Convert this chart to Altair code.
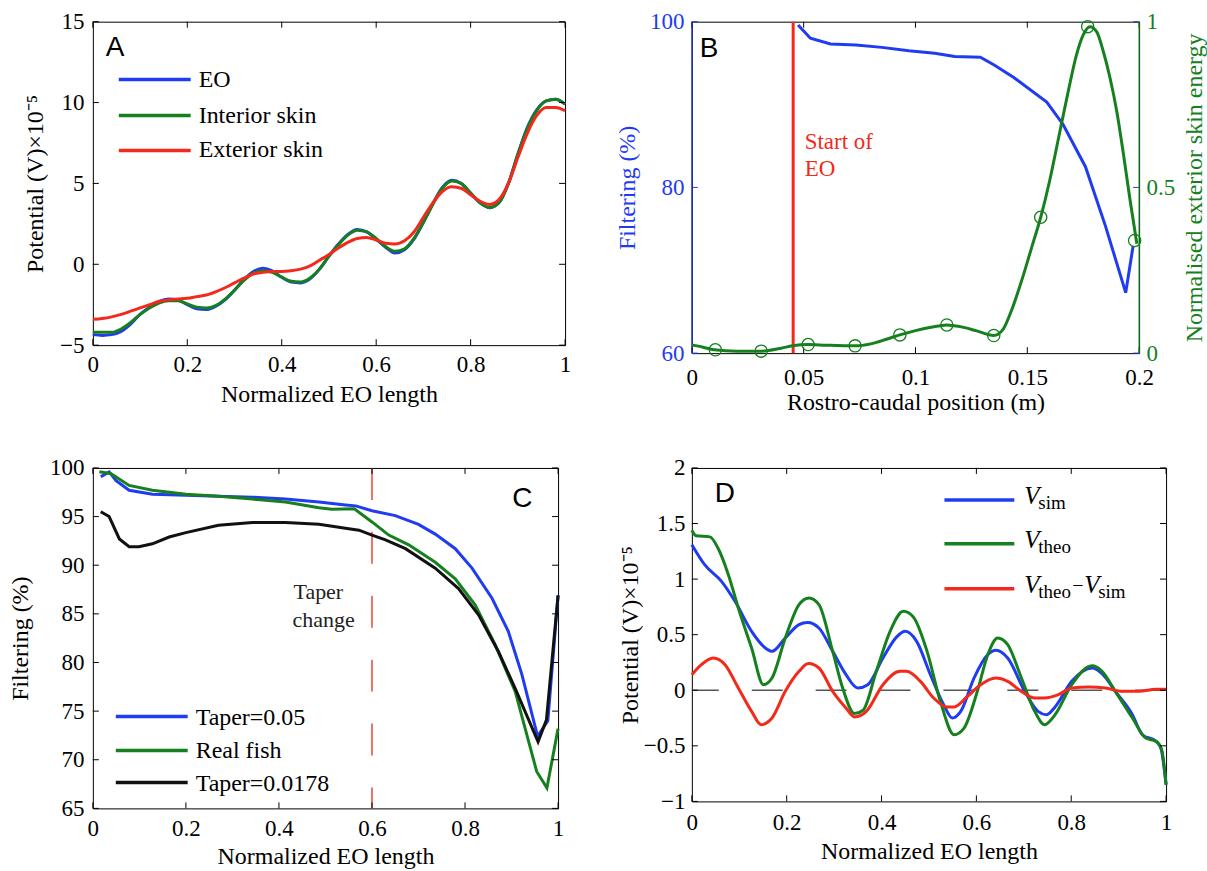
import altair as alt
import pandas as pd

SERIF = "Liberation Serif"
SANS = "Liberation Sans"
BLUE = "#1f3cf0"
GREEN = "#16801e"
RED = "#f2291b"
BLACK = "#111111"

# ---------------- Panel A data ----------------
a_x = [0.00, 0.02, 0.04, 0.06, 0.08, 0.10, 0.12, 0.14, 0.16, 0.18, 0.20, 0.22, 0.24, 0.26,
       0.28, 0.30, 0.32, 0.34, 0.36, 0.38, 0.40, 0.42, 0.44, 0.46, 0.48, 0.50, 0.52, 0.54,
       0.56, 0.58, 0.60, 0.62, 0.64, 0.66, 0.68, 0.70, 0.72, 0.74, 0.76, 0.78, 0.80, 0.82,
       0.84, 0.86, 0.88, 0.90, 0.92, 0.94, 0.96, 0.98, 1.00]
a_eo = [-4.35, -4.4, -4.35, -4.15, -3.7, -3.1, -2.65, -2.3, -2.15, -2.2, -2.5, -2.75, -2.8, -2.6,
        -2.2, -1.6, -0.95, -0.45, -0.25, -0.4, -0.8, -1.1, -1.15, -0.9, -0.3, 0.5, 1.25, 1.85,
        2.15, 2.0, 1.55, 1.05, 0.7, 0.9, 1.55, 2.6, 3.75, 4.75, 5.2, 5.0, 4.4, 3.8, 3.5,
        3.8, 5.0, 6.8, 8.45, 9.55, 10.1, 10.2, 9.9]
a_interior = [-4.2, -4.2, -4.2, -4.0, -3.6, -3.1, -2.7, -2.4, -2.25, -2.25, -2.45, -2.65, -2.7, -2.55,
              -2.15, -1.6, -1.0, -0.55, -0.4, -0.5, -0.8, -1.05, -1.1, -0.85, -0.3, 0.5, 1.2, 1.8,
              2.1, 2.0, 1.6, 1.1, 0.8, 0.95, 1.6, 2.6, 3.7, 4.7, 5.15, 5.0, 4.4, 3.8, 3.5,
              3.8, 5.0, 6.8, 8.4, 9.5, 10.1, 10.2, 9.9]
a_exterior = [-3.4, -3.35, -3.25, -3.1, -2.9, -2.7, -2.5, -2.3, -2.2, -2.15, -2.1, -2.0, -1.9, -1.7,
              -1.45, -1.15, -0.85, -0.6, -0.5, -0.45, -0.45, -0.4, -0.3, -0.1, 0.25, 0.6, 1.0, 1.35,
              1.6, 1.65, 1.5, 1.3, 1.25, 1.45, 2.0, 2.9, 3.8, 4.5, 4.8, 4.7, 4.3, 3.9, 3.7,
              4.0, 5.0, 6.6, 8.1, 9.2, 9.7, 9.7, 9.5]
a_names = ["EO", "Interior skin", "Exterior skin"]
a_xticks = [0, 0.2, 0.4, 0.6, 0.8, 1]
a_yticks = [-5, 0, 5, 10, 15]

# ---------------- Panel B data ----------------
b_filt_x = [0.0475, 0.053, 0.062, 0.0734, 0.085, 0.097, 0.1086, 0.1175, 0.129, 0.135, 0.1438,
            0.1587, 0.166, 0.176, 0.185, 0.194, 0.1973]
b_filt_y = [99.6, 98.0, 97.3, 97.2, 96.9, 96.5, 96.2, 95.8, 95.7, 94.8, 93.3,
            90.3, 87.6, 82.5, 75.3, 67.3, 72.9]
b_energy_x = [0.000, 0.005, 0.010, 0.020, 0.031, 0.040, 0.045, 0.052, 0.060, 0.073, 0.080, 0.087,
              0.093, 0.100, 0.107, 0.114, 0.120, 0.127, 0.135, 0.139, 0.143, 0.148, 0.152, 0.156,
              0.160, 0.164, 0.168, 0.172, 0.175, 0.178, 0.181, 0.184, 0.187, 0.190, 0.193, 0.196,
              0.199]
b_energy_y = [0.025, 0.018, 0.010, 0.006, 0.006, 0.015, 0.022, 0.026, 0.024, 0.022, 0.028, 0.042,
              0.055, 0.068, 0.078, 0.085, 0.080, 0.068, 0.053, 0.07, 0.13, 0.23, 0.32, 0.41,
              0.52, 0.65, 0.78, 0.90, 0.96, 0.985, 0.97, 0.91, 0.83, 0.73, 0.60, 0.46,
              0.33]
b_circle_x = [0.0105, 0.031, 0.052, 0.073, 0.093, 0.114, 0.135, 0.156, 0.177, 0.198]
b_circle_y = [0.01, 0.006, 0.026, 0.022, 0.055, 0.085, 0.053, 0.41, 0.985, 0.34]
b_eo_start = [0.0453]
b_xticks = [0, 0.05, 0.1, 0.15, 0.2]
b_left_ticks = [60, 80, 100]
b_right_ticks = [0, 0.5, 1]

# ---------------- Panel C data ----------------
c_t05_x = [0.017, 0.035, 0.05, 0.078, 0.128, 0.2, 0.27, 0.343, 0.414, 0.486, 0.543, 0.565, 0.6,
           0.65, 0.7, 0.736, 0.779, 0.815, 0.858, 0.893, 0.922, 0.956, 0.978, 1.0]
c_t05_y = [99.1, 99.6, 98.7, 97.7, 97.3, 97.2, 97.1, 97.0, 96.8, 96.5, 96.2, 96.1, 95.6,
           95.1, 94.2, 93.2, 91.7, 89.7, 86.6, 83.2, 78.8, 72.4, 74.0, 86.9]
c_real_x = [0.014, 0.039, 0.078, 0.128, 0.2, 0.27, 0.343, 0.414, 0.486, 0.514, 0.562, 0.6, 0.636,
            0.679, 0.736, 0.779, 0.822, 0.865, 0.908, 0.954, 0.976, 1.0]
c_real_y = [99.6, 99.4, 98.2, 97.7, 97.3, 97.1, 96.8, 96.5, 95.9, 95.75, 95.8, 94.45, 93.1,
            92.1, 90.3, 88.6, 85.9, 81.8, 77.0, 68.8, 67.1, 73.2]
c_t0178_x = [0.017, 0.035, 0.057, 0.078, 0.099, 0.128, 0.164, 0.2, 0.27, 0.343, 0.414, 0.486,
             0.543, 0.572, 0.6, 0.629, 0.672, 0.736, 0.786, 0.829, 0.872, 0.908, 0.957, 0.975, 1.0]
c_t0178_y = [95.5, 95.0, 92.7, 91.9, 91.9, 92.2, 92.9, 93.35, 94.1, 94.4, 94.4, 94.2,
             93.8, 93.6, 93.1, 92.6, 91.7, 89.7, 87.6, 84.9, 81.1, 77.3, 71.85, 74.1, 86.9]
c_names = ["Taper=0.05", "Real fish", "Taper=0.0178"]
c_taper_change = [0.6]
c_xticks = [0, 0.2, 0.4, 0.6, 0.8, 1]
c_yticks = [65, 70, 75, 80, 85, 90, 95, 100]

# ---------------- Panel D data ----------------
d_sim_x = [0, 0.027, 0.0625, 0.091, 0.126, 0.155, 0.169, 0.197, 0.226, 0.244, 0.268, 0.297,
           0.325, 0.35, 0.371, 0.403, 0.432, 0.45, 0.474, 0.503, 0.531, 0.549, 0.567, 0.595,
           0.624, 0.641, 0.666, 0.702, 0.73, 0.748, 0.766, 0.801, 0.844, 0.865, 0.893, 0.929,
           0.95, 0.979, 0.989, 1.0]
d_sim_y = [1.31, 1.13, 0.98, 0.80, 0.53, 0.38, 0.35, 0.47, 0.59, 0.61, 0.56, 0.35,
           0.14, 0.02, 0.05, 0.29, 0.48, 0.53, 0.44, 0.14, -0.13, -0.25, -0.19, 0.11,
           0.32, 0.36, 0.29, -0.01, -0.19, -0.22, -0.15, 0.08, 0.20, 0.15, -0.01, -0.22,
           -0.40, -0.46, -0.52, -0.85]
d_theo_x = [0, 0.009, 0.038, 0.055, 0.077, 0.098, 0.126, 0.151, 0.169, 0.197, 0.226, 0.247,
            0.268, 0.297, 0.318, 0.343, 0.361, 0.389, 0.418, 0.446, 0.467, 0.496, 0.524, 0.553,
            0.574, 0.602, 0.624, 0.645, 0.666, 0.695, 0.723, 0.744, 0.766, 0.801, 0.844, 0.865,
            0.893, 0.929, 0.957, 0.979, 0.991, 1.0]
d_theo_y = [1.44, 1.39, 1.38, 1.28, 1.04, 0.74, 0.38, 0.05, 0.11, 0.47, 0.77, 0.83,
            0.77, 0.35, 0.02, -0.21, -0.18, 0.17, 0.53, 0.71, 0.66, 0.35, -0.10, -0.40,
            -0.34, -0.01, 0.32, 0.47, 0.41, 0.11, -0.19, -0.31, -0.22, 0.05, 0.22, 0.17,
            -0.01, -0.25, -0.43, -0.46, -0.54, -0.85]
d_diff_x = [0, 0.02, 0.045, 0.07, 0.098, 0.126, 0.146, 0.169, 0.197, 0.226, 0.246, 0.268,
            0.297, 0.325, 0.343, 0.368, 0.403, 0.439, 0.453, 0.482, 0.51, 0.538, 0.553, 0.58,
            0.609, 0.641, 0.666, 0.695, 0.723, 0.744, 0.773, 0.801, 0.837, 0.872, 0.908, 0.943,
            0.979, 1.0]
d_diff_y = [0.14, 0.23, 0.29, 0.23, 0.02, -0.19, -0.31, -0.25, -0.01, 0.17, 0.24, 0.20,
            -0.01, -0.16, -0.24, -0.19, 0.05, 0.17, 0.17, 0.08, -0.07, -0.15, -0.15, -0.06,
            0.05, 0.11, 0.08, -0.01, -0.07, -0.07, -0.04, 0.02, 0.03, 0.02, -0.01, -0.01,
            0.01, 0.01]
d_zero = [0]
d_xticks = [0, 0.2, 0.4, 0.6, 0.8, 1]
d_yticks = [-1, -0.5, 0, 0.5, 1, 1.5, 2]

panel_letters = ["A", "B", "C", "D"]
x_title_eo = "Normalized EO length"
y_title_pot = "Potential (V)\u00d710\u207b\u2075"
y_title_filt = "Filtering (%)"

LABEL_EXPR = "replace(toString(datum.value), '-', '\u2212')"


# ---------------- helpers ----------------
def sc(dom):
    return alt.Scale(domain=dom, nice=False, zero=False)


def axis(vals, title, orient, tx, ty, lp=8, color="black", angle=0, tbase="alphabetic"):
    return alt.Axis(values=vals, labelExpr=LABEL_EXPR, title=title, orient=orient, ticks=False,
                    domain=False, grid=False, labelFont=SERIF, labelFontSize=23, labelColor=color,
                    labelPadding=lp, titleFont=SERIF, titleFontSize=24, titleFontWeight="normal",
                    titleColor=color, titleX=tx, titleY=ty, titleAngle=angle,
                    titleBaseline=tbase, titleAlign="center",
                    labelFlush=False, labelOverlap=False)


def line(xs, ys, color, xdom, ydom, xaxis, yaxis, width=3, interp="monotone"):
    df = pd.DataFrame({"x": xs, "y": ys})
    return alt.Chart(df).mark_line(color=color, strokeWidth=width, interpolate=interp).encode(
        x=alt.X("x:Q", scale=sc(xdom), axis=xaxis),
        y=alt.Y("y:Q", scale=sc(ydom), axis=yaxis),
    )


def frame_ticks(xvals, yvals, xdom, ydom, xaxis, yaxis, w, h, L=6, lcol="black", rcol="black"):
    xdf = pd.DataFrame({"x": xvals})
    ydf = pd.DataFrame({"y": yvals})
    xe = alt.X("x:Q", scale=sc(xdom), axis=xaxis)
    ye = alt.Y("y:Q", scale=sc(ydom), axis=yaxis)
    return [
        alt.Chart(xdf).mark_rule(color="black", strokeWidth=1).encode(x=xe, y=alt.value(h), y2=alt.value(h - L)),
        alt.Chart(xdf).mark_rule(color="black", strokeWidth=1).encode(x=xe, y=alt.value(0), y2=alt.value(L)),
        alt.Chart(ydf).mark_rule(color=lcol, strokeWidth=1).encode(y=ye, x=alt.value(0), x2=alt.value(L)),
        alt.Chart(ydf).mark_rule(color=rcol, strokeWidth=1).encode(y=ye, x=alt.value(w), x2=alt.value(w - L)),
    ]


def txt(text, x, y, size, font=SERIF, color="black", italic=False, align="left"):
    df = pd.DataFrame({"t": [text]})
    return alt.Chart(df).mark_text(align=align, baseline="alphabetic", font=font, fontSize=size,
                                   color=color, fontStyle="italic" if italic else "normal").encode(
        x=alt.value(x), y=alt.value(y), text="t:N")


def leg_line(color, x1, x2, y, width=3.5):
    df = pd.DataFrame({"t": [color]})
    return alt.Chart(df).mark_rule(color=color, strokeWidth=width).encode(
        x=alt.value(x1), x2=alt.value(x2), y=alt.value(y))


# ---------------- Panel A ----------------
WA, HA = 473, 324
A_XD, A_YD = [0, 1], [-5, 15]
ax_a = axis(a_xticks, x_title_eo, "bottom", WA / 2, 56, lp=8)
ay_a = axis(a_yticks, y_title_pot, "left", -57, HA / 2, lp=9, angle=270, tbase="middle")
A = alt.layer(
    line(a_x, a_eo, BLUE, A_XD, A_YD, ax_a, ay_a),
    line(a_x, a_interior, GREEN, A_XD, A_YD, ax_a, ay_a),
    line(a_x, a_exterior, RED, A_XD, A_YD, ax_a, ay_a),
    *frame_ticks(a_xticks, a_yticks, A_XD, A_YD, ax_a, ay_a, WA, HA),
    leg_line(BLUE, 26, 98, 58), txt(a_names[0], 106, 65, 24),
    leg_line(GREEN, 26, 98, 94), txt(a_names[1], 106, 101, 24),
    leg_line(RED, 26, 98, 129), txt(a_names[2], 106, 136, 24),
    txt(panel_letters[0], 13, 34, 28, font=SANS),
).properties(width=WA, height=HA)

# ---------------- Panel B ----------------
WB, HB = 448, 332
B_XD, B_LD, B_RD = [0, 0.2], [60, 100], [0, 1]
ax_b = axis(b_xticks, "Rostro-caudal position (m)", "bottom", WB / 2, 56, lp=13)
ayl_b = axis(b_left_ticks, y_title_filt, "left", -64, HB / 2, lp=8, color=BLUE,
             angle=270, tbase="middle")
ayr_b = axis(b_right_ticks, "Normalised exterior skin energy", "right", 55, HB / 2, lp=7,
             color=GREEN, angle=270, tbase="middle")
b_left = alt.layer(
    line(b_filt_x, b_filt_y, BLUE, B_XD, B_LD, ax_b, ayl_b, interp="linear"),
    alt.Chart(pd.DataFrame({"x": b_eo_start})).mark_rule(color=RED, strokeWidth=3).encode(
        x=alt.X("x:Q", scale=sc(B_XD), axis=ax_b)),
    *frame_ticks(b_xticks, b_left_ticks, B_XD, B_LD, ax_b, ayl_b, WB, HB, lcol=BLUE, rcol=BLUE),
    alt.Chart(pd.DataFrame({"t": ["l"]})).mark_rule(color=BLUE, strokeWidth=1.2).encode(
        x=alt.value(0), y=alt.value(0), y2=alt.value(HB)),
    alt.Chart(pd.DataFrame({"t": ["r"]})).mark_rule(color=GREEN, strokeWidth=1.2).encode(
        x=alt.value(WB), y=alt.value(0), y2=alt.value(HB)),
    txt("Start of", 113, 128, 23, color=RED),
    txt("EO", 113, 155, 23, color=RED),
    txt(panel_letters[1], 8, 35, 28, font=SANS),
)
b_right = alt.layer(
    line(b_energy_x, b_energy_y, GREEN, B_XD, B_RD, ax_b, ayr_b),
    alt.Chart(pd.DataFrame({"x": b_circle_x, "y": b_circle_y})).mark_point(
        shape="circle", filled=False, size=150, color=GREEN, strokeWidth=1.3, opacity=1).encode(
        x=alt.X("x:Q", scale=sc(B_XD), axis=ax_b),
        y=alt.Y("y:Q", scale=sc(B_RD), axis=ayr_b)),
)
B = alt.layer(b_left, b_right).resolve_scale(y="independent").properties(width=WB, height=HB)

# ---------------- Panel C ----------------
WC, HC = 466, 341
C_XD, C_YD = [0, 1], [65, 100]
ax_c = axis(c_xticks, x_title_eo, "bottom", WC / 2, 55, lp=9)
ay_c = axis(c_yticks, y_title_filt, "left", -72, HC / 2, lp=9, angle=270, tbase="middle")
C = alt.layer(
    alt.Chart(pd.DataFrame({"x": c_taper_change})).mark_rule(
        color="#e8453a", strokeWidth=1.5, strokeDash=[32, 32]).encode(
        x=alt.X("x:Q", scale=sc(C_XD), axis=ax_c)),
    line(c_t05_x, c_t05_y, BLUE, C_XD, C_YD, ax_c, ay_c, interp="linear"),
    line(c_real_x, c_real_y, GREEN, C_XD, C_YD, ax_c, ay_c, interp="linear"),
    line(c_t0178_x, c_t0178_y, BLACK, C_XD, C_YD, ax_c, ay_c, interp="linear"),
    *frame_ticks(c_xticks, c_yticks, C_XD, C_YD, ax_c, ay_c, WC, HC),
    leg_line(BLUE, 23, 95, 249), txt(c_names[0], 103, 257, 24),
    leg_line(GREEN, 23, 95, 283), txt(c_names[1], 103, 291, 24),
    leg_line(BLACK, 23, 95, 315), txt(c_names[2], 103, 324, 24),
    txt("Taper", 201, 131, 22, color="#222222"),
    txt("change", 200, 159, 22, color="#222222"),
    txt(panel_letters[2], 420, 39, 28, font=SANS),
).properties(width=WC, height=HC)

# ---------------- Panel D ----------------
WD, HD = 475, 334
D_XD, D_YD = [0, 1], [-1, 2]
ax_d = axis(d_xticks, x_title_eo, "bottom", WD / 2, 57, lp=10)
ay_d = axis(d_yticks, y_title_pot, "left", -61, HD / 2, lp=7, angle=270, tbase="middle")
D = alt.layer(
    alt.Chart(pd.DataFrame({"y": d_zero})).mark_rule(
        color="#555555", strokeWidth=1.4, strokeDash=[31, 33]).encode(
        y=alt.Y("y:Q", scale=sc(D_YD), axis=ay_d)),
    line(d_sim_x, d_sim_y, BLUE, D_XD, D_YD, ax_d, ay_d),
    line(d_theo_x, d_theo_y, GREEN, D_XD, D_YD, ax_d, ay_d),
    line(d_diff_x, d_diff_y, RED, D_XD, D_YD, ax_d, ay_d),
    *frame_ticks(d_xticks, d_yticks, D_XD, D_YD, ax_d, ay_d, WD, HD),
    leg_line(BLUE, 253, 323, 32),
    txt("V", 333, 36, 25, italic=True), txt("sim", 347, 41, 19),
    leg_line(GREEN, 253, 323, 76),
    txt("V", 333, 80, 25, italic=True), txt("theo", 347, 85, 19),
    leg_line(RED, 253, 323, 121),
    txt("V", 333, 125, 25, italic=True), txt("theo", 347, 130, 19),
    txt("\u2212", 381, 124, 20), txt("V", 393, 125, 25, italic=True), txt("sim", 407, 130, 19),
    txt(panel_letters[3], 23, 34, 28, font=SANS),
).properties(width=WD, height=HD)

chart = alt.concat(
    A, B, C, D, columns=2,
    spacing=alt.RowColnumber(row=115, column=127),
    bounds="flush",
).properties(
    padding={"left": 8, "top": 9, "right": 0, "bottom": 0},
    background="white",
).configure(font=SERIF).configure_axis(labelFont=SERIF, titleFont=SERIF).configure_view(
    stroke="black", strokeWidth=1)

chart.save("out.html", embed_options={"renderer": "svg", "actions": False})
